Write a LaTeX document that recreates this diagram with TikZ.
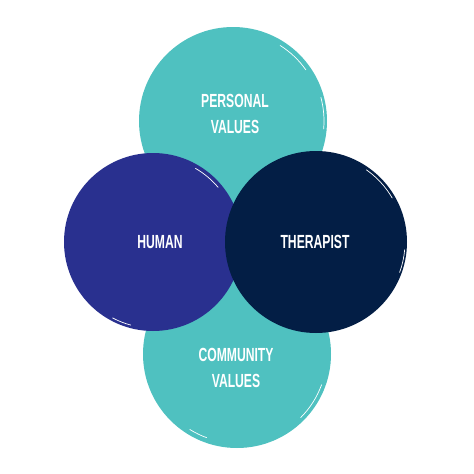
\documentclass[tikz,border=0pt]{standalone}
\usepackage{fontspec}
\newfontfamily\bebas[FakeStretch=0.64]{Liberation Sans}
\definecolor{teal1}{HTML}{4FC1C0}
\definecolor{human}{HTML}{29308F}
\definecolor{thera}{HTML}{031E45}
\begin{document}
\begin{tikzpicture}[x=1pt,y=-1pt,
  blob/.style={circle,inner sep=0pt,minimum size=#1},
  lbl/.style={text=white,font=\bebas\bfseries\fontsize{19}{26}\selectfont,align=center},
  streak/.style={white,line width=0.7pt,line cap=round}]
\useasboundingbox[fill=white] (0,0) rectangle (474,474);
% circles
\node[blob=188pt,fill=teal1] (top) at (233,121) {};
\node[blob=188pt,fill=teal1] (bot) at (237,354) {};
\node[blob=178pt,fill=human] (hum) at (153,242) {};
\node[blob=182pt,fill=thera] (ther) at (316,242) {};
% brush streaks
\draw[streak] (top.center) ++(-58:89) arc (-58:-35:89);
\draw[streak] (top.center) ++(-15:91) arc (-15:5:91);
\draw[streak] (bot.center) ++(20:90) arc (20:45:90);
\draw[streak] (bot.center) ++(110:89) arc (110:122:89);
\draw[streak] (hum.center) ++(-60:85) arc (-60:-40:85);
\draw[streak] (hum.center) ++(105:86) arc (105:118:86);
\draw[streak] (ther.center) ++(-55:88) arc (-55:-30:88);
\draw[streak] (ther.center) ++(5:89) arc (5:20:89);
% labels
\node[lbl] (pv) at (235,114) {PERSONAL\\VALUES};
\node[lbl] (hl) at (160,242) {HUMAN};
\node[lbl] (tl) at (315,242) {THERAPIST};
\node[lbl] (cv) at (236,368) {COMMUNITY\\VALUES};
\end{tikzpicture}
\end{document}
